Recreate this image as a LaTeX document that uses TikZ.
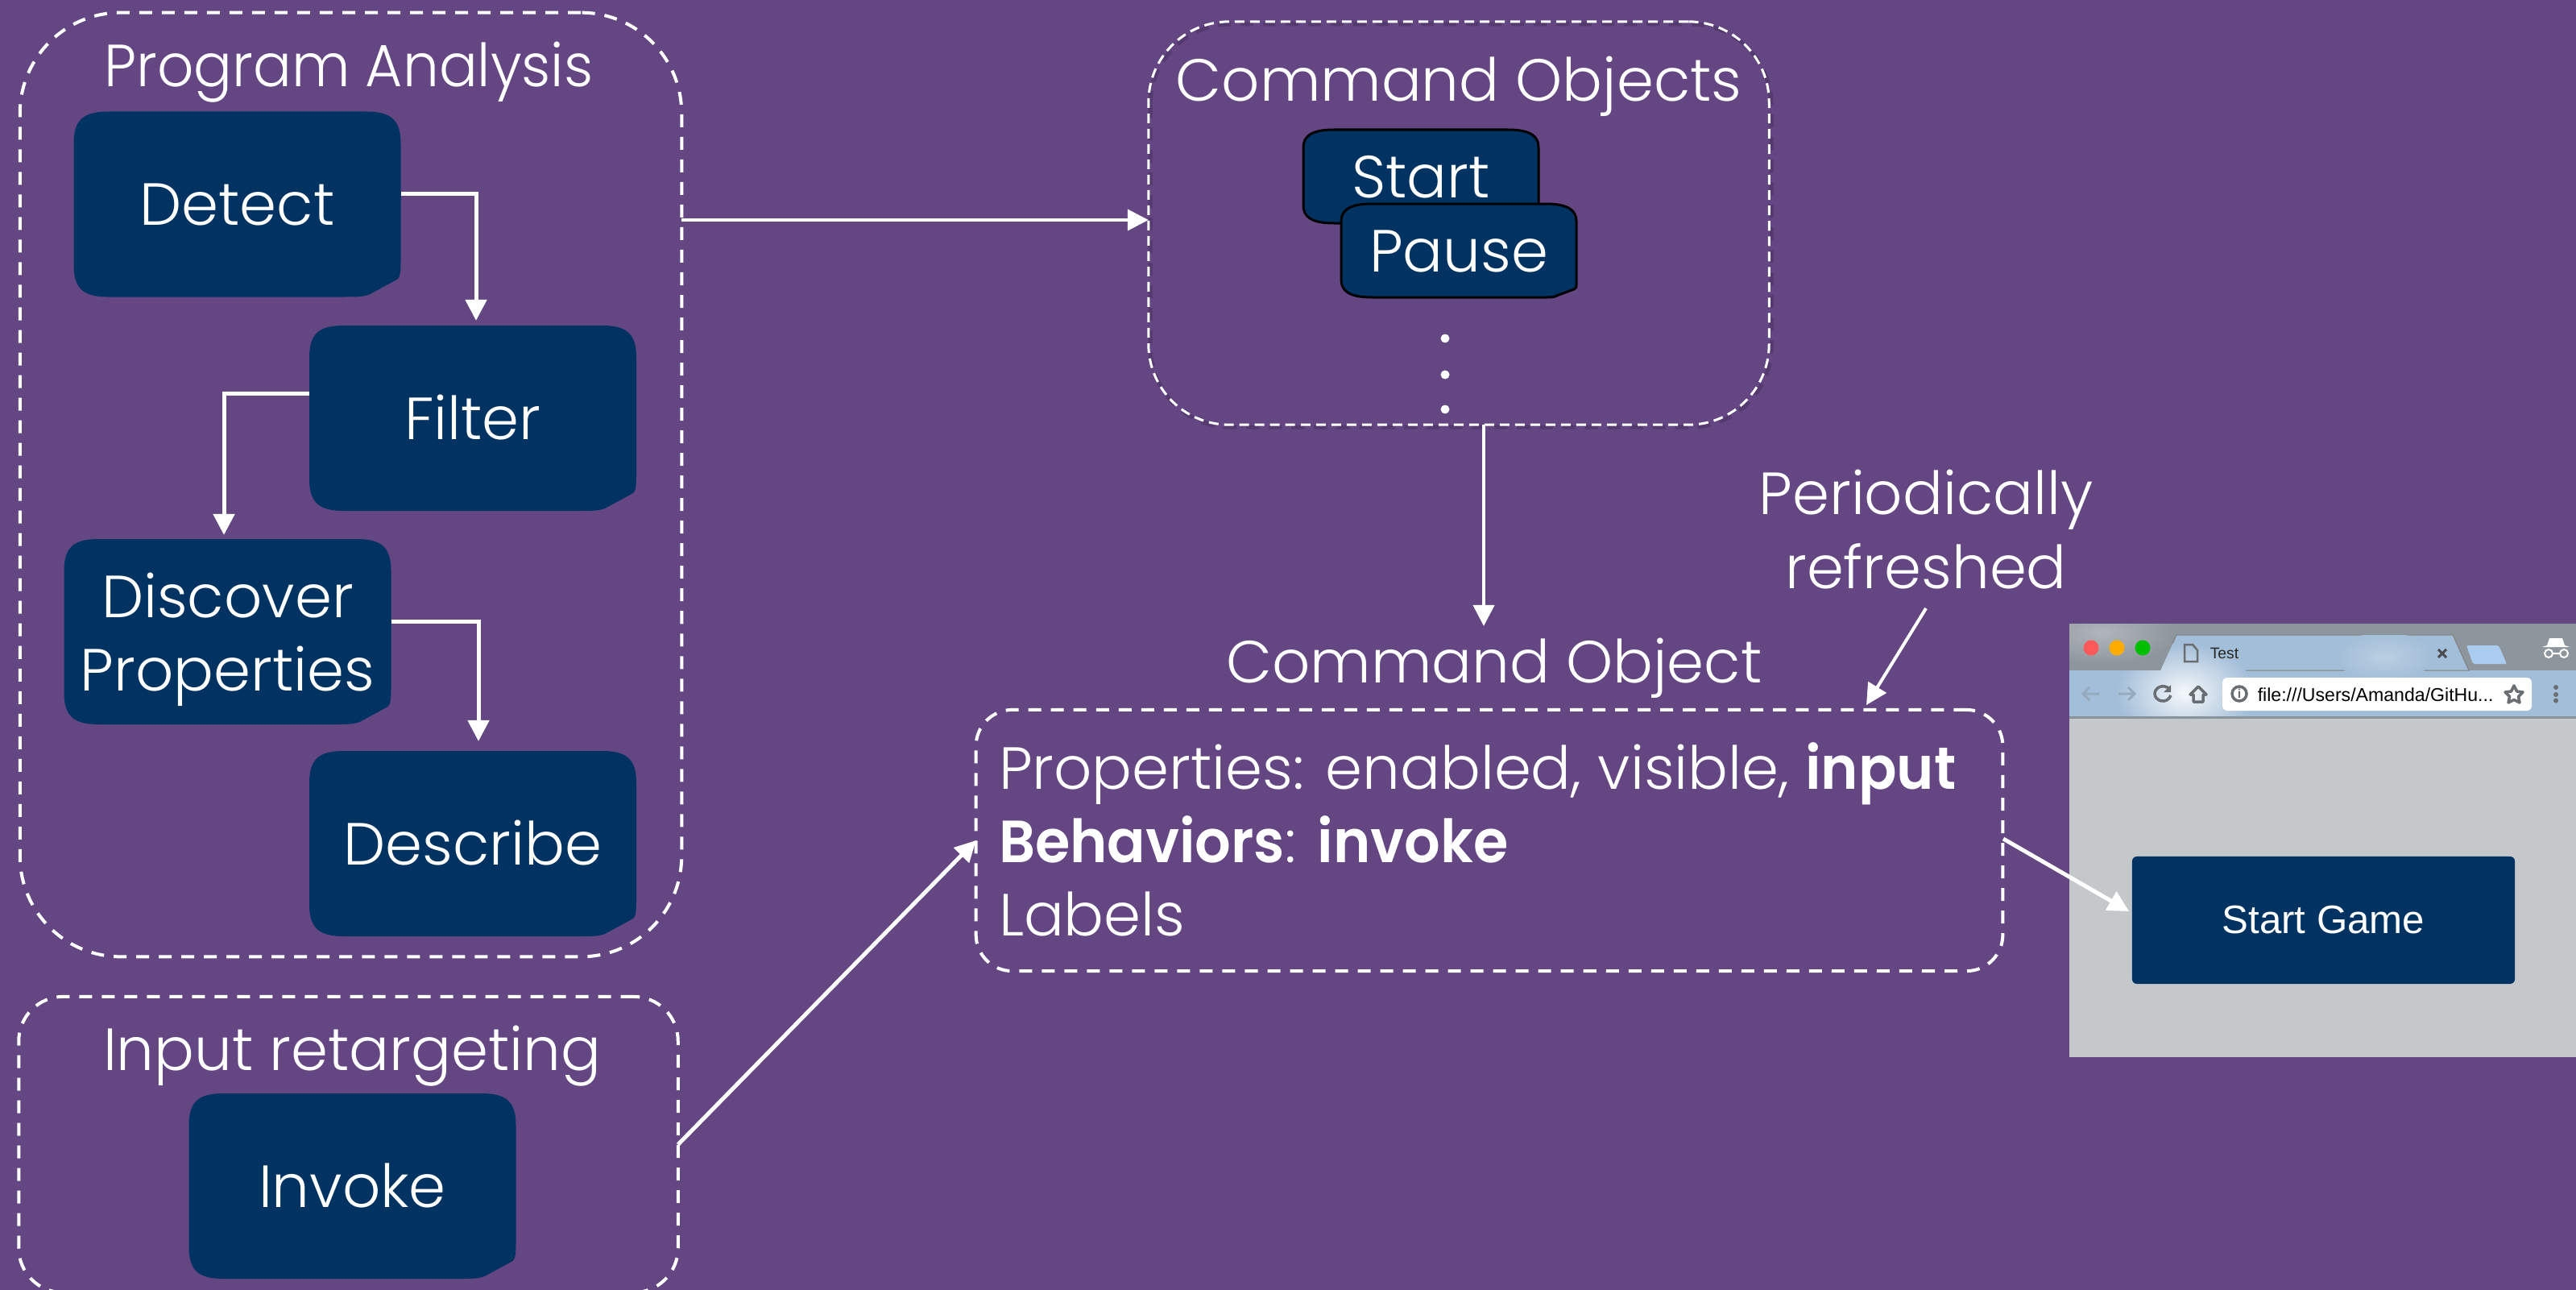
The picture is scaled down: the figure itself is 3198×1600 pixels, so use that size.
\documentclass[tikz,border=0pt]{standalone}
\usepackage{fontspec}
\setmainfont{Poppins Light}[BoldFont=Poppins SemiBold,BoldFeatures={FakeStretch=.95}]
\newfontfamily\browserfont{Liberation Sans}
\newfontfamily\narrowfont{Poppins Light}[FakeStretch=.96]
\usetikzlibrary{arrows.meta,calc,positioning}

\definecolor{slidepurple}{RGB}{99,70,130}
\definecolor{shadowpurple}{RGB}{85,58,112}
\definecolor{boxnavy}{RGB}{0,51,98}
\definecolor{pagegrey}{RGB}{196,200,203}
\definecolor{chromegrey}{RGB}{142,150,157}
\definecolor{chromeblue}{RGB}{163,190,216}
\definecolor{tabnew}{RGB}{170,204,240}
\definecolor{iconinactive}{RGB}{150,170,190}
\definecolor{icongrey}{RGB}{105,110,115}

\tikzset{
    label text/.style={text=white,inner sep=0pt,outer sep=0pt,font=\fontsize{21}{26}\selectfont},
    box text/.style={label text,text height=15pt,text depth=0pt},
    group box/.style={draw=white,line width=.04cm,dash pattern=on .16cm off .12cm,inner sep=0pt,outer sep=0pt},
    flow/.style={draw=white,line width=.05cm,-{Triangle[width=.26cm,length=.26cm]}},
    thin flow/.style={flow,line width=.04cm},
    dot/.style={circle,fill=white,inner sep=0pt,minimum size=.11cm},
    icon/.style={draw=icongrey,line width=.035cm},
}

% big box with one corner cut off: name, centre x, centre y, text
\newcommand{\bigbox}[4]{
    \fill [boxnavy,shift={(#2,#3)}] (-160,-115) -- (160,-115) .. controls (192,-115) and (203,-104) .. (203,-75)
        -- (203,70) .. controls (203,85) and (202,90) .. (199,93) -- (164,112)
        .. controls (155,115) and (150,115) .. (130,115) -- (-160,115)
        .. controls (-192,115) and (-203,104) .. (-203,75) -- (-203,-75)
        .. controls (-203,-104) and (-192,-115) .. (-160,-115) -- cycle;
    \node (#1) [box text,minimum width=4.06cm,minimum height=2.3cm] at (#2,#3) {#4};
}
% small one with black outline
\newcommand{\smallbox}[4]{
    \filldraw [boxnavy,draw=black,line width=.03cm,shift={(#2,#3)}] (-108,-58) -- (108,-58) .. controls (136,-58) and (146,-50) .. (146,-36)
        -- (146,40) .. controls (146,46) and (146,47) .. (143,48) -- (124,55)
        .. controls (118,58) and (116,58) .. (108,58) -- (-108,58)
        .. controls (-136,58) and (-146,50) .. (-146,36) -- (-146,-36)
        .. controls (-146,-50) and (-136,-58) .. (-108,-58) -- cycle;
    \node (#1) [box text,minimum width=2.92cm,minimum height=1.16cm] at (#2,#3) {#4};
}

\begin{document}
\begin{tikzpicture}[x=.01cm,y=-.01cm]
    \useasboundingbox (0,0) rectangle (3198,1600);
    \fill [slidepurple] (-10,-10) rectangle (3208,1610);

    \node (analysis) [group box,rounded corners=1.25cm,minimum width=8.21cm,minimum height=11.71cm] at (435.5,601.5) {};
    \node (analysistitle) [label text,anchor=base,font=\narrowfont\fontsize{21}{26}\selectfont] at (433,108) {Program Analysis};
    \bigbox{detect}{294.5}{253.5}{Detect}
    \bigbox{filter}{587}{519}{Filter}
    \bigbox{discover}{282.5}{784}{}
    \node (discovertext) [label text,align=center,anchor=center] at (282.5,794) {Discover\\Properties};
    \bigbox{describe}{587}{1047}{Describe}

    \draw [flow] ([yshift=.125cm]detect.east) -| ([xshift=.04cm,yshift=.06cm]filter.north);
    \draw [flow] ([yshift=.3cm]filter.west) -| ([xshift=-.045cm,yshift=.05cm]discover.north);
    \draw [flow] ([yshift=.13cm]discover.east) -| ([xshift=.07cm,yshift=.12cm]describe.north);

    \node (input) [group box,rounded corners=.55cm,minimum width=8.18cm,minimum height=3.67cm] at (432.5,1420.5) {};
    \node (inputtitle) [label text,anchor=base] at (437,1328) {Input retargeting};
    \bigbox{invoke}{437.5}{1472}{Invoke}

    \draw [group box,draw=shadowpurple,line width=.05cm,rounded corners=1cm] (1428,30) rectangle (2199,530);
    \node (objects) [group box,line width=.03cm,dash pattern=on .12cm off .07cm,rounded corners=1cm,minimum width=7.7cm,minimum height=5cm] at (1811,277) {};
    \node (objectstitle) [label text,anchor=base] at (1811,126) {Command Objects};
    \smallbox{start}{1764}{219}{Start}
    \smallbox{pause}{1811}{311}{Pause}
    \node (dota) [dot] at (1794,420) {};
    \node (dotb) [dot] at (1794,465) {};
    \node (dotc) [dot] at (1794,508) {};

    \coordinate (objin) at ([yshift=.04cm]objects.west);
    \draw [thin flow] (analysis.east |- objin) -- (objin);

    \node (cmdtitle) [label text,anchor=base] at (1855,847) {Command Object};
    \coordinate (cmdin) at (1842,777);
    \draw [thin flow] (objects.south -| cmdin) -- (cmdin);
    \node (cmd) [group box,rounded corners=.45cm,minimum width=12.74cm,minimum height=3.24cm] at (1849,1043) {};
    \node (cmdtext) [label text,align=left,anchor=west,font=\fontsize{21}{25.9}\selectfont] at (1240,1042) {Properties: enabled, visible, \textbf{input}\\\textbf{Behaviors}: \textbf{invoke}\\Labels};

    \draw [flow] (input.east) -- (cmd.west);

    \node (refresh) [label text,align=center] at (2391,657) {Periodically\\refreshed};
    \coordinate (refreshin) at (2317,875);
    \draw [thin flow] (2391,755) -- (refreshin);

    % browser window
    \fill [pagegrey] (2569,774) rectangle (3208,1312);
    \begin{scope}
        \clip (2569,774) rectangle (3208,832);
        \fill [chromegrey] (2569,774) rectangle (3208,832);
        \shade [inner color=white!30!chromegrey,outer color=chromegrey] (2610,785) ellipse (90 and 40);
    \end{scope}
    \fill [chromeblue] (2569,832) rectangle (3208,891);
    \fill [chromeblue,draw=gray,line width=.01cm] (2682,832) -- (2702,788) -- (3045,788) -- (3065,832) -- cycle;
    \begin{scope}
        \clip (2682,832) -- (2702,788) -- (3045,788) -- (3065,832) -- (3208,832) -- (3208,891) -- (2569,891) -- (2569,832) -- cycle;
        \shade [inner color=white!90!chromeblue,outer color=chromeblue] (2712,860) ellipse (85 and 62);
        \shade [inner color=white!25!chromeblue,outer color=chromeblue] (2960,815) ellipse (60 and 30);
    \end{scope}
    \fill [gray!70!chromeblue] (2569,889) rectangle (3208,892);

    \fill [red!65!white] (2596,804) circle (9.5);
    \fill [orange!65!yellow] (2628,804) circle (9.5);
    \fill [green!75!black] (2660,804) circle (9.5);

    \draw [icon,line width=.025cm] (2712,800) -- (2722,800) -- (2728,807) -- (2728,821) -- (2712,821) -- cycle;
    \node (tabname) [anchor=base west,inner sep=0pt,text=black!85,font=\browserfont\fontsize{5.5}{6}\selectfont] at (2743,817) {Test};
    \draw [icongrey!70!black,line width=.03cm] (3027,806) -- (3037,816) (3037,806) -- (3027,816);
    \fill [tabnew,rounded corners=.02cm] (3062,801) -- (3102,801) -- (3112,824) -- (3070,824) -- cycle;
    \fill [white] (3165,792) -- (3181,792) -- (3184,801) -- (3190,803) -- (3156,803) -- (3162,801) -- cycle;
    \draw [white,line width=.02cm] (3164,811) circle (5) (3183,811) circle (5) (3169,811) -- (3178,811);

    \draw [iconinactive,line width=.03cm] (2606,861) -- (2586,861) (2594,853) -- (2586,861) -- (2594,869);
    \draw [iconinactive,line width=.03cm] (2630,861) -- (2650,861) (2642,853) -- (2650,861) -- (2642,869);
    \draw [icon] (2693,855) .. controls (2686,848) and (2675,853) .. (2675,861) .. controls (2675,870) and (2690,875) .. (2695,863);
    \fill [icongrey] (2695,850) -- (2695,859) -- (2686,859) -- cycle;
    \draw [icon,line join=round] (2719,862) -- (2729,852) -- (2739,862) -- (2735,862) -- (2735,871) -- (2723,871) -- (2723,862) -- cycle;

    \fill [white,rounded corners=.06cm] (2759,841) rectangle (3143,882);
    \draw [icon] (2780,861) circle (9);
    \node (infomark) [inner sep=0pt,text=icongrey,font=\browserfont\bfseries\fontsize{4.5}{5}\selectfont] at (2780,861) {i};
    \node (address) [anchor=base west,inner sep=0pt,text=black,font=\browserfont\fontsize{6.57}{8}\selectfont] at (2802,870) {file:///Users/Amanda/GitHu...};
    \draw [icon,line join=round] (3121,851) -- (3124.5,858) -- (3132,859) -- (3126.5,864.5) -- (3128,872) -- (3121,868.5) -- (3114,872) -- (3115.5,864.5) -- (3110,859) -- (3117.5,858) -- cycle;
    \fill [icongrey] (3173,853) circle (3) (3173,862) circle (3) (3173,869.5) circle (3);

    \node (startgame) [fill=boxnavy,rounded corners=.06cm,text=white,inner sep=0pt,minimum width=4.75cm,minimum height=1.58cm,font=\browserfont\fontsize{14}{16}\selectfont] at (2884.5,1142) {Start Game};
    \draw [flow] (2487,1041) -- ([xshift=-.03cm,yshift=.11cm]startgame.west);
\end{tikzpicture}
\end{document}
